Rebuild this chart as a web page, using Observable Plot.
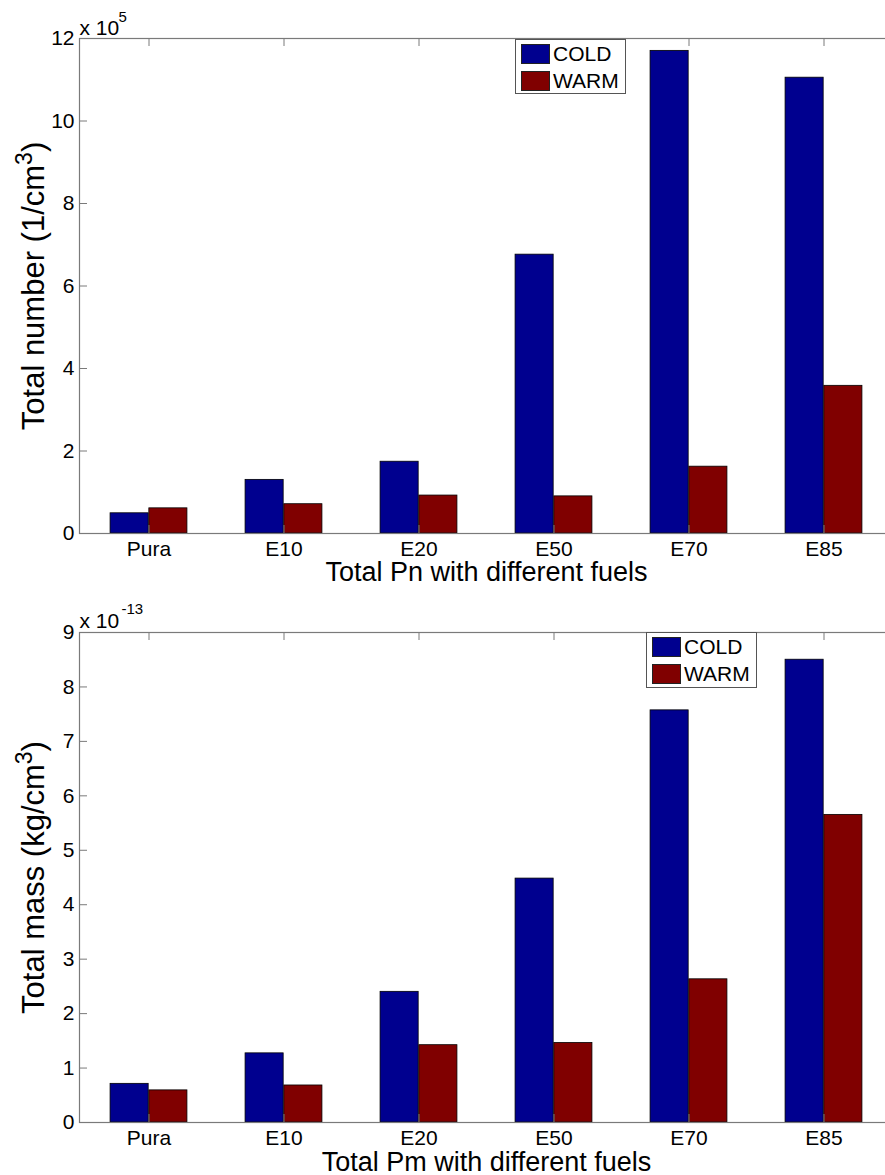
<!DOCTYPE html>
<html>
<head>
<meta charset="utf-8">
<script src="https://cdn.jsdelivr.net/npm/d3@7"></script>
<script src="https://cdn.jsdelivr.net/npm/@observablehq/plot@0.6"></script>
<style>
  html, body { margin: 0; padding: 0; background: #fff; overflow: hidden; }
  #root { position: relative; width: 885px; height: 1175px; overflow: hidden; background: #fff;
          font-family: "Liberation Sans", Arial, sans-serif; }
  .panel { position: absolute; left: 0; }
  .panel svg { max-width: none !important; display: block; }
  .legend { position: absolute; border: 1px solid #555; background: #fff; box-sizing: border-box; }
  .sw { position: absolute; width: 29px; height: 20px; box-sizing: border-box; border: 1px solid #222; }
  .lab { position: absolute; font-size: 21px; line-height: 20px; color: #000; }
</style>
</head>
<body>
<div id="root"></div>
<script>
// ---- data (values in the units shown on the axes) ----
const fuels = ["Pura", "E10", "E20", "E50", "E70", "E85"];
const series = ["COLD", "WARM"];
const seriesColors = ["#00008F", "#800000"];

// Total number, x 10^5 (1/cm^3)
const numberCold = [0.49, 1.30, 1.74, 6.76, 11.70, 11.05];
const numberWarm = [0.61, 0.71, 0.92, 0.90, 1.62, 3.58];
const numberTicks = [0, 2, 4, 6, 8, 10, 12];

// Total mass, x 10^-13 (kg/cm^3)
const massCold = [0.71, 1.27, 2.40, 4.48, 7.57, 8.50];
const massWarm = [0.59, 0.68, 1.42, 1.46, 2.63, 5.65];
const massTicks = [0, 1, 2, 3, 4, 5, 6, 7, 8, 9];

// ---- layout ----
const FONT = "'Liberation Sans', Arial, sans-serif";
const AX = "#7a7a7a";
const W = 895, ML = 79, MR = 2;
const innerW = W - ML - MR;
const step = innerW / fuels.length;
const bw = step * 2 / 7;   // grouped bar width (2 series)
const TICK = 8;

function panel(cfg) {
  const data = fuels.map((f, i) => ({fuel: f, cold: cfg.cold[i], warm: cfg.warm[i]}));
  const innerH = cfg.height - cfg.marginTop - cfg.marginBottom;
  const svg = Plot.plot({
    width: W,
    height: cfg.height,
    marginLeft: ML,
    marginRight: MR,
    marginTop: cfg.marginTop,
    marginBottom: cfg.marginBottom,
    style: {fontFamily: FONT, fontSize: "21px", color: "#000", background: "#fff", overflow: "visible", maxWidth: "none"},
    x: {domain: fuels, padding: 0, label: null},
    y: {domain: [0, cfg.yMax], label: null},
    marks: [
      Plot.barY(data, {x: "fuel", y: "cold", fill: seriesColors[0], stroke: "#000", strokeWidth: 0.8,
        insetLeft: step / 2 - bw, insetRight: step / 2}),
      Plot.barY(data, {x: "fuel", y: "warm", fill: seriesColors[1], stroke: "#000", strokeWidth: 0.8,
        insetLeft: step / 2, insetRight: step / 2 - bw}),
      Plot.tickX(fuels, {x: d => d, insetTop: innerH - TICK, stroke: AX}),
      Plot.tickX(fuels, {x: d => d, insetBottom: innerH - TICK, stroke: AX}),
      Plot.tickY(cfg.yTicks, {y: d => d, insetRight: innerW - TICK, stroke: AX}),
      Plot.tickY(cfg.yTicks, {y: d => d, insetLeft: innerW - TICK, stroke: AX}),
      Plot.frame({stroke: AX, strokeWidth: 1.2}),
      Plot.axisX({tickSize: 0, tickPadding: 8, fontSize: 21, label: null}),
      Plot.axisY({ticks: cfg.yTicks, tickSize: 0, tickPadding: 5, fontSize: 21, label: null}),
      Plot.text([cfg.xLabel], {text: d => d, frameAnchor: "bottom", textAnchor: "middle", lineAnchor: "bottom",
        dy: cfg.xLabelDy, fontSize: 27}),
      Plot.text([cfg.yLabel], {text: d => d, frameAnchor: "left", textAnchor: "middle", rotate: -90,
        lineAnchor: "bottom", dx: -36, fontSize: 31}),
      Plot.text(["x 10"], {text: d => d, frameAnchor: "top-left", textAnchor: "start", lineAnchor: "bottom",
        dy: cfg.multDy, fontSize: 21}),
      Plot.text([cfg.exp], {text: d => d, frameAnchor: "top-left", textAnchor: "start", lineAnchor: "bottom",
        dx: cfg.expDx, dy: cfg.expDy, fontSize: 15})
    ]
  });
  // render the unit's exponent "³" as a raised "3" (TeX-like superscript)
  d3.select(svg).selectAll("text")
    .filter(function () { return this.textContent === cfg.yLabel; })
    .each(function () {
      const t = d3.select(this);
      const [before, after] = cfg.yLabel.split("³");
      t.text(null);
      t.append("tspan").text(before);
      t.append("tspan").attr("font-size", "23px").attr("dy", "-12").text("3");
      t.append("tspan").attr("dy", "12").text(after);
    });
  return svg;
}

function legend(root, left, top, h) {
  const box = document.createElement("div");
  box.className = "legend";
  Object.assign(box.style, {left: left + "px", top: top + "px", width: "111px", height: h + "px"});
  series.forEach((s, i) => {
    const sw = document.createElement("div");
    sw.className = "sw";
    Object.assign(sw.style, {left: "5px", top: (4 + i * 27) + "px", background: seriesColors[i]});
    const lab = document.createElement("div");
    lab.className = "lab";
    lab.textContent = s;
    Object.assign(lab.style, {left: "37px", top: (4 + i * 27) + "px"});
    box.appendChild(sw);
    box.appendChild(lab);
  });
  root.appendChild(box);
}

const root = document.getElementById("root");

const top1 = document.createElement("div");
top1.className = "panel";
top1.style.top = "0px";
top1.appendChild(panel({
  cold: numberCold, warm: numberWarm, yMax: 12, yTicks: numberTicks,
  height: 600, marginTop: 38, marginBottom: 67,
  xLabel: "Total Pn with different fuels", xLabelDy: 47,
  yLabel: "Total number (1/cm³)",
  exp: "5", multDy: -4, expDx: 39, expDy: -17
}));
root.appendChild(top1);

const top2 = document.createElement("div");
top2.className = "panel";
top2.style.top = "600px";
top2.appendChild(panel({
  cold: massCold, warm: massWarm, yMax: 9, yTicks: massTicks,
  height: 575, marginTop: 32, marginBottom: 53,
  xLabel: "Total Pm with different fuels", xLabelDy: 48,
  yLabel: "Total mass (kg/cm³)",
  exp: "-13", multDy: -5, expDx: 42, expDy: -19
}));
root.appendChild(top2);

legend(root, 515, 39, 55);
legend(root, 646, 632, 56);
</script>
</body>
</html>
